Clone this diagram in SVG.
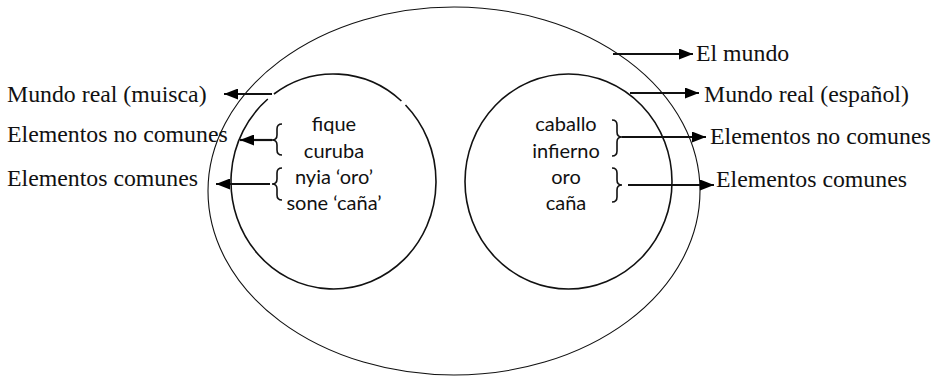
<svg xmlns="http://www.w3.org/2000/svg" width="938" height="376" viewBox="0 0 938 376">
<defs>
<marker id="ah" viewBox="0 0 14 11" refX="14" refY="5.5" markerWidth="14" markerHeight="11" orient="auto" markerUnits="userSpaceOnUse">
<path d="M0,0 L14,5.5 L0,11 z" fill="#000"/>
</marker>
<style>
.lbl{font-family:"Liberation Serif","Times New Roman",serif;font-size:23.8px;fill:#111}
.itm{font-family:Lato,"Open Sans",sans-serif;font-size:20px;fill:#111;text-anchor:middle}
.ell{fill:none;stroke:#111}
.arr{fill:none;stroke:#111;stroke-width:2.2;marker-end:url(#ah)}
.brc{fill:none;stroke:#111;stroke-width:1.6}
</style>
</defs>
<rect width="938" height="376" fill="#fff"/>
<g id="el-mundo">
<ellipse class="ell" cx="454" cy="191" rx="246" ry="184" stroke-width="1.1"/>
<text class="lbl" x="696" y="61">El mundo</text>
</g>
<g id="mundo-muisca">
<path class="ell" stroke-width="1.6" d="M273.95,94 A102.5,107.5 0 0 1 401.4,101 M405.5,105 A102.5,107.5 0 1 1 267.8,99"/>
<text class="lbl" x="7" y="102">Mundo real (muisca)</text>
<text class="lbl" x="7" y="142">Elementos no comunes</text>
<text class="lbl" x="7" y="186">Elementos comunes</text>
<text class="itm" x="334" y="131">fique</text>
<text class="itm" x="334" y="158">curuba</text>
<text class="itm" x="334" y="184">nyia ‘oro’</text>
<text class="itm" x="334" y="210">sone ‘caña’</text>
</g>
<g id="mundo-espanol">
<ellipse class="ell" cx="568.5" cy="181.5" rx="103.5" ry="107.5" stroke-width="1.6"/>
<text class="lbl" x="704" y="102">Mundo real (español)</text>
<text class="lbl" x="710" y="144">Elementos no comunes</text>
<text class="lbl" x="716" y="187">Elementos comunes</text>
<text class="itm" x="566" y="131">caballo</text>
<text class="itm" x="566" y="158">infierno</text>
<text class="itm" x="566" y="184">oro</text>
<text class="itm" x="566" y="210">caña</text>
</g>
<g id="connectors">
<path class="brc" d="M282,124 Q277,124 277,129 L277,135 Q277,140 272,140 Q277,140 277,145 L277,150 Q277,155 282,155"/>
<path class="brc" d="M282,168 Q277,168 277,173 L277,179 Q277,184 272,184 Q277,184 277,189 L277,195 Q277,200 282,200"/>
<path class="brc" d="M612,120 Q617,120 617,125 L617,132 Q617,137 622,137 Q617,137 617,142 L617,151 Q617,156 612,156"/>
<path class="brc" d="M612,168 Q617,168 617,173 L617,180 Q617,185 622,185 Q617,185 617,190 L617,197 Q617,202 612,202"/>
<line class="arr" x1="272" y1="94" x2="224" y2="94"/>
<line class="arr" x1="272" y1="140" x2="240" y2="140" stroke-width="2.6"/>
<line class="arr" x1="270" y1="184" x2="216" y2="184"/>
<line class="arr" x1="613" y1="54" x2="693" y2="54"/>
<line class="arr" x1="630" y1="93" x2="699" y2="93"/>
<line class="arr" x1="622" y1="137" x2="706" y2="137"/>
<line class="arr" x1="628" y1="185" x2="714" y2="185"/>
</g>
</svg>
